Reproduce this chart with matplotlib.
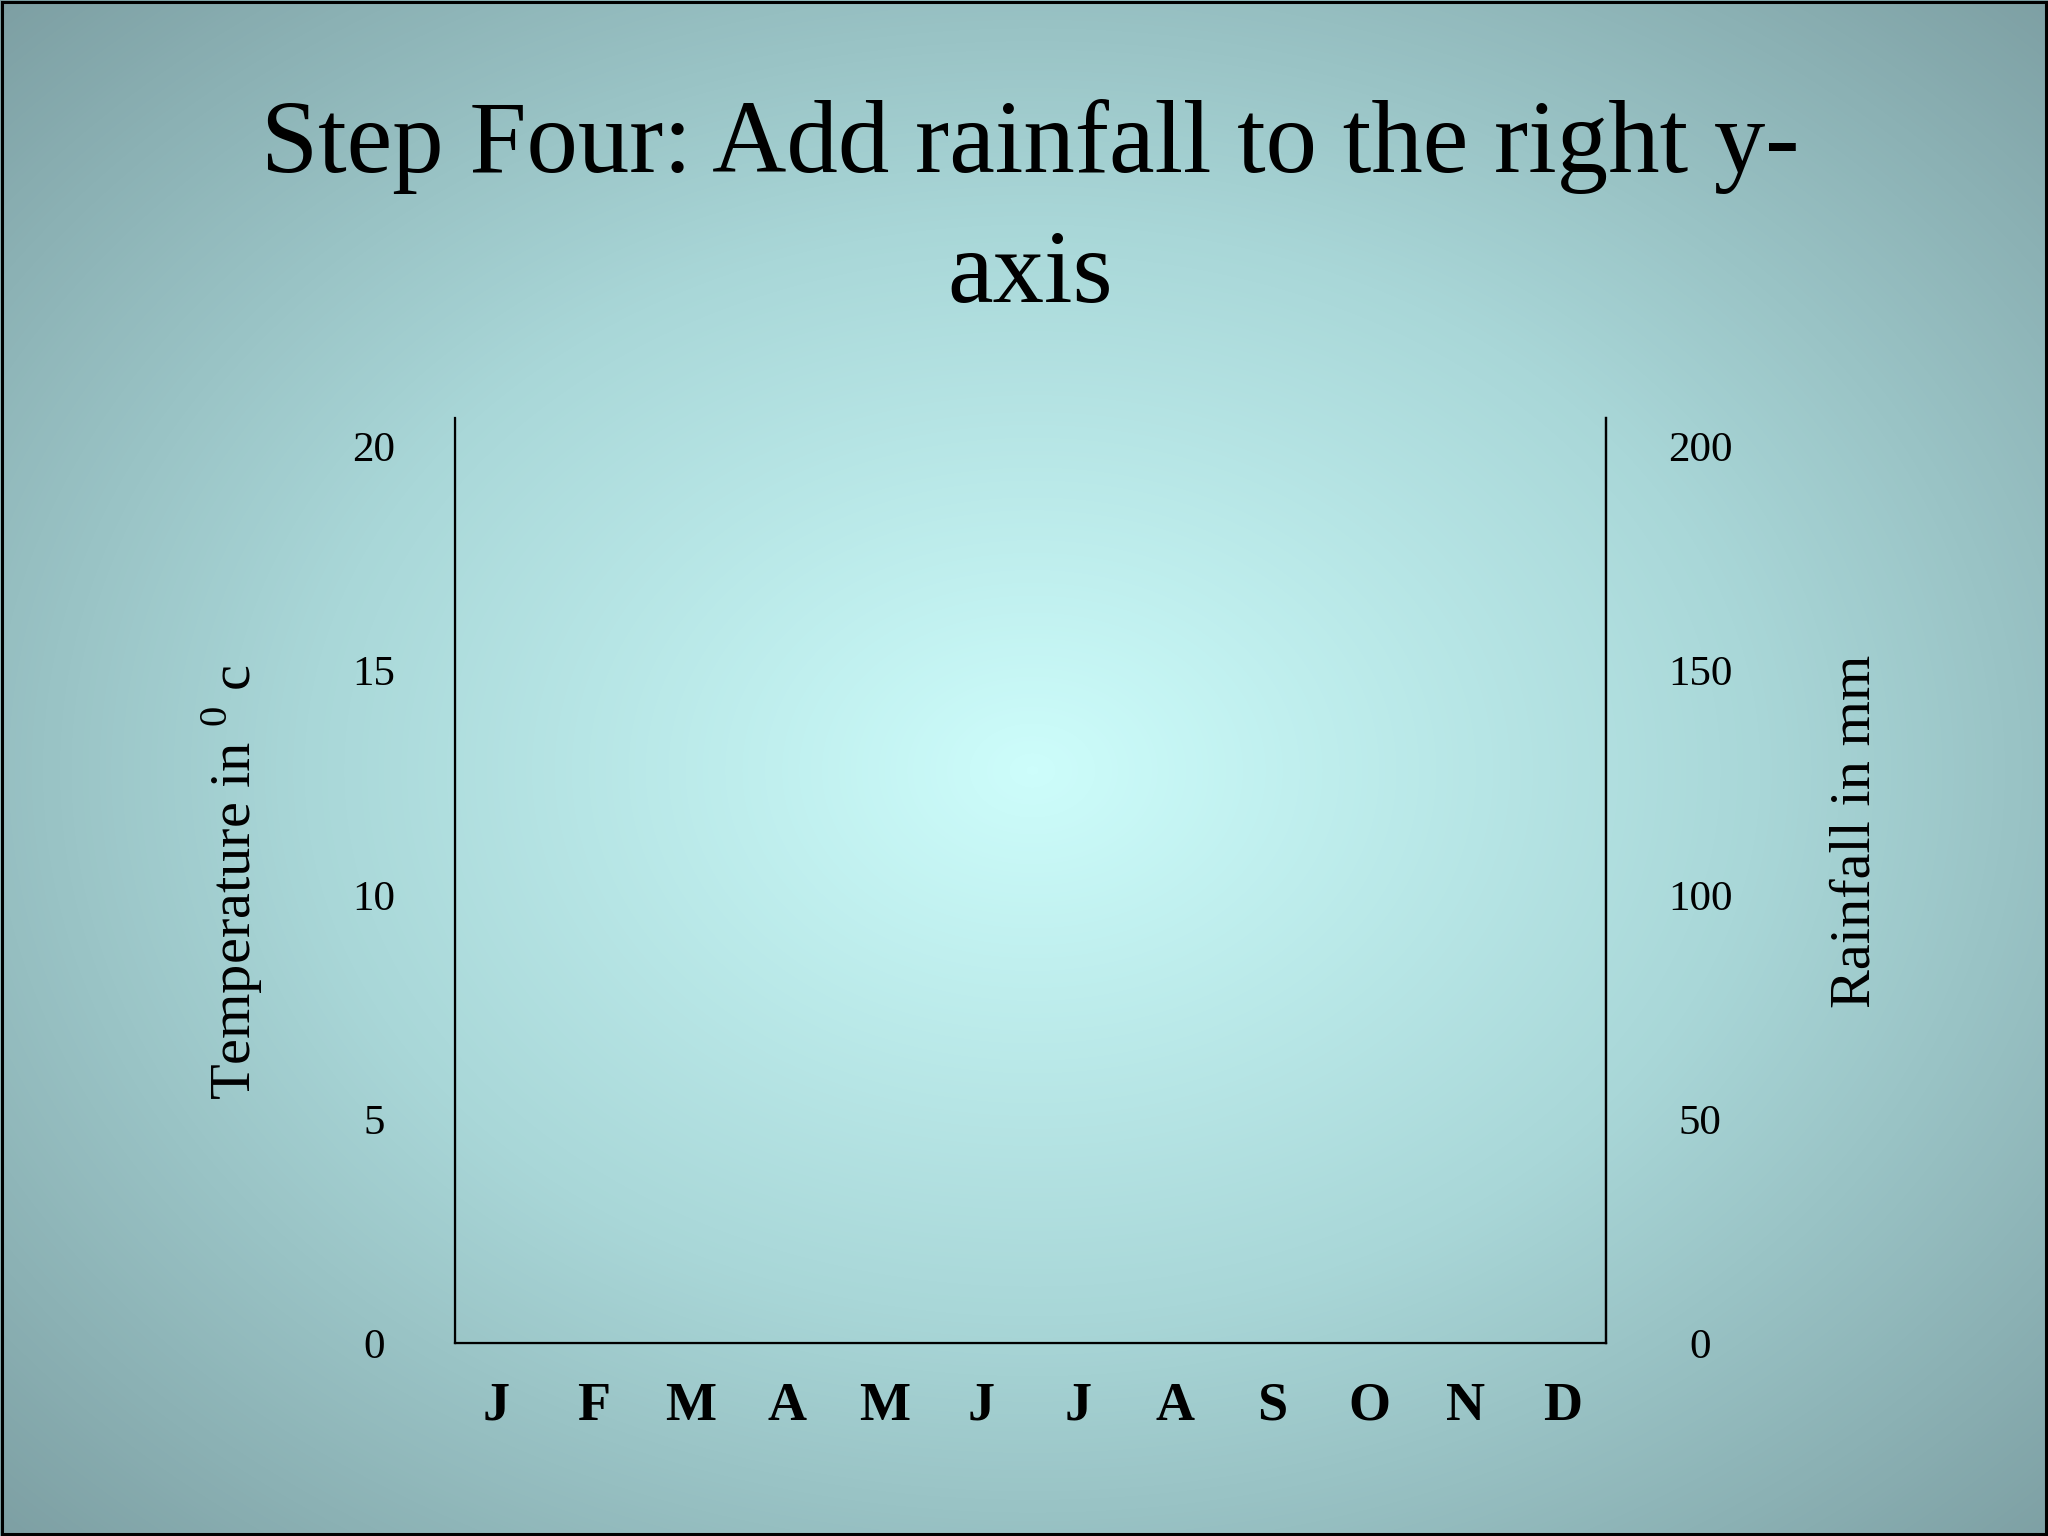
import numpy as np
import matplotlib
matplotlib.use("Agg")
import matplotlib.pyplot as plt
from matplotlib.colors import LinearSegmentedColormap
from matplotlib.patches import Rectangle

# ---- data ----
months = ["J", "F", "M", "A", "M", "J", "J", "A", "S", "O", "N", "D"]
temp_ticks = [0, 5, 10, 15, 20]
rain_ticks = [0, 50, 100, 150, 200]
title = "Step Four: Add rainfall to the right y-\naxis"
left_label = "Temperature in $^{\\mathregular{0}}$ c"
right_label = "Rainfall in mm"

plt.rcParams['font.family'] = ['Liberation Serif', 'DejaVu Serif']
plt.rcParams['mathtext.fontset'] = 'custom'
plt.rcParams['mathtext.rm'] = 'Liberation Serif'

W, H, DPI = 2048, 1536, 100
fig = plt.figure(figsize=(W / DPI, H / DPI), dpi=DPI)

# radial gradient background
bg = fig.add_axes([0, 0, 1, 1], zorder=-10)
yy, xx = np.mgrid[0:H, 0:W]
cx, cy = 1032, 770
d = np.sqrt(((xx - cx) / (W * 0.62)) ** 2 + ((yy - cy) / (H * 0.62)) ** 2)
d = np.clip(d / d.max(), 0, 1)
cmap = LinearSegmentedColormap.from_list("bg", ["#cdfdfb", "#a9d7d8", "#7d9fa3"])
bg.imshow(d, cmap=cmap, aspect='auto', extent=[0, 1, 0, 1], origin='upper')
bg.set_axis_off()

# frame
fig.patches.append(Rectangle((0.0008, 0.001), 0.9984, 0.998, transform=fig.transFigure,
                             fill=False, edgecolor='black', linewidth=2.2, zorder=100))

ax = fig.add_axes([0.222, 0.1257, 0.562, 0.6022])
ax.patch.set_alpha(0)
x = np.arange(len(months))
ax.set_xlim(-0.43, len(months) - 1 + 0.44)
ax.set_xticks(x)
ax.set_xticklabels(months, fontsize=39, fontweight='bold')
ax.set_ylim(0, 20.64)
ax.set_yticks(temp_ticks)
ax.set_yticklabels([str(t) for t in temp_ticks], fontsize=31, ha='center')
ax.tick_params(axis='x', length=0, pad=28)
ax.tick_params(axis='y', length=0, pad=58)
for s in ['left', 'bottom', 'right']:
    ax.spines[s].set_linewidth(1.6)
    ax.spines[s].set_color('black')
ax.spines['top'].set_visible(False)

ax2 = ax.twinx()
ax2.set_ylim(0, 206.4)
ax2.set_yticks(rain_ticks)
ax2.set_yticklabels([str(t) for t in rain_ticks], fontsize=31, ha='center')
ax2.tick_params(axis='y', length=0, pad=68)
ax2.spines['top'].set_visible(False)
ax2.spines['right'].set_linewidth(1.6)

fig.text(0.503, 1 - 302 / 1536, title, ha='center', va='baseline',
         fontsize=74, linespacing=1.5)
fig.text(0.1128, 1 - 882 / 1536, left_label, rotation=90, ha='center', va='center',
         fontsize=42)
fig.text(0.906, 1 - 831 / 1536, right_label, rotation=90, ha='center', va='center',
         fontsize=42)

fig.savefig("out.png", dpi=DPI)
